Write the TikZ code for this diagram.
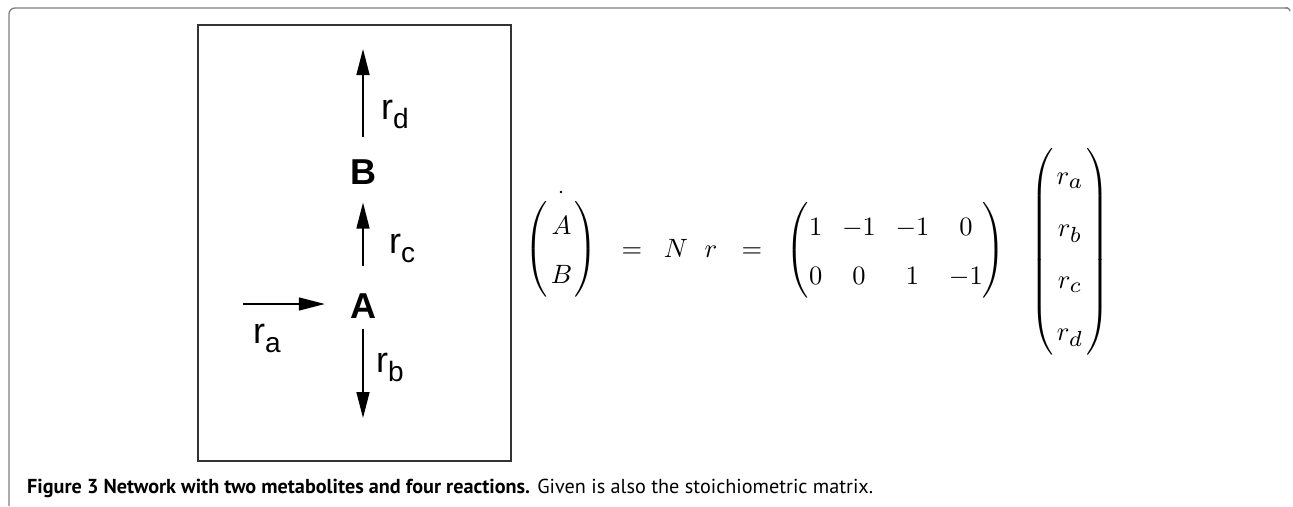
\documentclass[tikz,border=0pt]{standalone}
\usepackage{amsmath}
\usepackage{fontspec}
\usetikzlibrary{arrows.meta}
\newfontfamily\helv{Liberation Sans}
\newfontfamily\capfont{PT Sans}
\definecolor{framegray}{HTML}{808080}
\definecolor{boxgray}{HTML}{333333}
\newcommand{\rlab}[1]{\fontsize{36}{40}\selectfont r\raisebox{-9.5pt}{\fontsize{28}{30}\selectfont #1}}
\newcommand{\scaledmath}[1]{\scalebox{2.65}{\normalsize #1}}
\newcommand{\bsub}[1]{\scalebox{1.18}{$\scriptstyle #1$}}
\tikzset{
  met/.style={inner sep=0pt, font=\helv\fontsize{36}{40}\selectfont\bfseries},
  lab/.style={inner sep=0pt, anchor=base west, font=\helv},
  arr/.style={line width=1.5pt, -{Triangle[length=26pt,width=13pt]}},
  mth/.style={inner sep=0pt},
  mthb/.style={mth, anchor=base},
}
\begin{document}
\begin{tikzpicture}[x=1pt,y=-1pt]
\useasboundingbox (0,0) rectangle (1293,506);
% outer frame
\draw[framegray, line width=1.3pt, rounded corners=6pt] (9,506) -- (9,8) -- (1288,8);
\draw[framegray, line width=1.3pt, rounded corners=1.5pt] (1285,8) -- (1289,8) -- (1290,11);
% inner box
\draw[boxgray, line width=1.1pt] (198,25) rectangle (511,461);
% metabolites
\node[met] (B) at (363,172) {B};
\node[met] (A) at (363,306) {A};
\coordinate (dtip) at (363,49);
\coordinate (btip) at (363,418);
\coordinate (astart) at (243,304);
% reactions
\draw[arr, shorten <=22pt] (B.north) -- (dtip);
\draw[arr, shorten <=27pt, shorten >=18pt] (A) -- (B);
\draw[arr, shorten <=10pt] (A.south) -- (btip);
\draw[arr, shorten >=25pt] (astart) -- (astart -| A.west);
% labels
\node[lab] (ld) at (381,119) {\rlab{d}};
\node[lab] (lc) at (389,253) {\rlab{c}};
\node[lab] (la) at (253,343) {\rlab{a}};
\node[lab] (lb) at (376,372) {\rlab{b}};
% equation
\node[mth] (vecAB) at (561.5,249) {\scaledmath{\renewcommand\arraystretch{1.57}\setlength\arraycolsep{1pt}$\left(\begin{array}{c} A\\ B\end{array}\right)$}};
\node[circle, fill, inner sep=0pt, minimum size=2.8pt] (dotA) at (561,192) {};
\node[mthb] (eq1) at (632,257) {\scaledmath{$=$}};
\node[mthb] (N) at (676,257) {\scaledmath{$N$}};
\node[mthb] (r) at (711,257) {\scaledmath{$r$}};
\node[mthb] (eq2) at (752,257) {\scaledmath{$=$}};
\node[mth] (Nmat) at (896,250) {\scaledmath{\renewcommand\arraystretch{1.57}\setlength\arraycolsep{3.7pt}$\left(\begin{array}{@{}cccc@{}} 1 & -1 & -1 & 0\\ 0 & 0 & 1 & -1\end{array}\right)$}};
\node[mth] (rvec) at (1070,252) {\scaledmath{\renewcommand\arraystretch{1.64}\setlength\arraycolsep{1pt}$\left(\begin{array}{c} r_{\bsub{a}}\\ r_{\bsub{b}}\\ r_{\bsub{c}}\\ r_{\bsub{d}}\end{array}\right)$}};
% caption
\node[inner sep=0pt, anchor=base west, font=\capfont\fontsize{20.2}{24}\selectfont] (cap) at (27,493) {\textbf{Figure 3 Network with two metabolites and four reactions.} Given is also the stoichiometric matrix.};
\end{tikzpicture}
\end{document}
